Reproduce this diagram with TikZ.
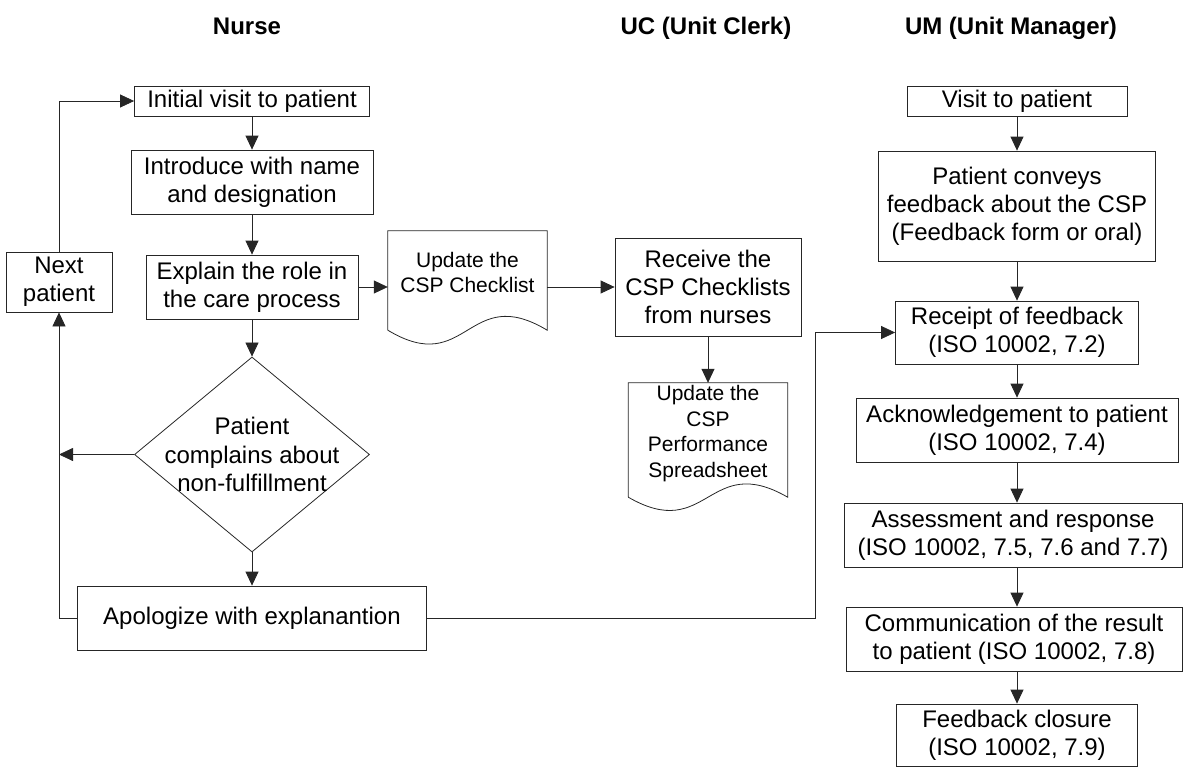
\documentclass[tikz,border=0pt]{standalone}
\usepackage{fontspec}
\setmainfont{Liberation Sans}
\usetikzlibrary{arrows.meta,shapes.geometric,calc}
\tikzset{
  box/.style={draw=black!85, line width=0.8pt, inner sep=0pt, align=center,
    font=\fontsize{24}{28}\selectfont},
  arr/.style={draw=black!85, line width=0.8pt, -{Triangle[length=14pt,width=13pt]}},
  ln/.style={draw=black!85, line width=0.8pt},
  docbox/.style={inner sep=0pt},
  doctext/.style={inner sep=0pt, align=center, font=\fontsize{21}{25.5}\selectfont},
  midtext/.style={inner sep=0pt, align=center, font=\fontsize{24}{28.5}\selectfont},
  hdr/.style={font=\fontsize{24}{28}\selectfont\bfseries, anchor=base},
  dia/.style={draw=black!85, line width=0.8pt, diamond, inner sep=0pt},
}
\newcommand\docwave[2]{%
  \draw[ln] (#1.south west) -- (#1.north west) -- (#1.north east) -- (#1.south east)
    .. controls ($(#1.south)+(0,-#2)$) and ($(#1.south)+(0,#2)$) .. (#1.south west);}
\begin{document}
\begin{tikzpicture}[x=1pt,y=-1pt]
\useasboundingbox (0,0) rectangle (1183,768);

% headers
\node[hdr] (hN) at (247,35) {Nurse};
\node[hdr] (hU) at (706,35) {UC (Unit Clerk)};
\node[hdr] (hM) at (1011,35) {UM (Unit Manager)};

% Nurse column
\node[box, minimum width=235, minimum height=30] (init) at (252,101) {Initial visit to patient};
\node[box, minimum width=242, minimum height=64] (intro) at (252,182) {Introduce with name\\and designation};
\node[box, minimum width=212, minimum height=64] (expl) at (252,287) {Explain the role in\\the care process};
\node[dia, minimum width=235, minimum height=195,
  label={[midtext]center:{Patient\\complains about\\non-fulfillment}}] (dec) at (252,454.5) {};
\node[box, minimum width=349, minimum height=64] (apol) at (252,618) {Apologize with explanantion};
\node[box, minimum width=106, minimum height=60] (next) at (59,282) {Next\\patient};

% UC column
\node[docbox, minimum width=159, minimum height=99,
  label={[doctext, yshift=8pt]center:{Update the\\CSP Checklist}}] (chk) at (467.5,280.5) {};
\docwave{chk}{48}
\node[box, minimum width=186, minimum height=98] (recv) at (708,287) {Receive the\\CSP Checklists\\from nurses};
\node[docbox, minimum width=159, minimum height=114,
  label={[doctext, yshift=6.5pt]center:{Update the\\CSP\\Performance\\Spreadsheet}}] (sprd) at (708,440) {};
\docwave{sprd}{46}

% UM column
\node[box, minimum width=220, minimum height=30] (visit) at (1017,101) {Visit to patient};
\node[box, minimum width=277, minimum height=110] (conv) at (1017,206) {Patient conveys\\feedback about the CSP\\(Feedback form or oral)};
\node[box, minimum width=243, minimum height=63] (rec) at (1017,332.5) {Receipt of feedback\\(ISO 10002, 7.2)};
\node[box, minimum width=322, minimum height=64] (ack) at (1017,430) {Acknowledgement to patient\\(ISO 10002, 7.4)};
\node[box, minimum width=338, minimum height=64] (ass) at (1013,535) {Assessment and response\\(ISO 10002, 7.5, 7.6 and 7.7)};
\node[box, minimum width=336, minimum height=64] (comm) at (1014,639) {Communication of the result\\to patient (ISO 10002, 7.8)};
\node[box, minimum width=241, minimum height=62] (close) at (1017,735) {Feedback closure\\(ISO 10002, 7.9)};

% connectors: nurse
\draw[arr] (init) -- (intro);
\draw[arr] (intro) -- (expl);
\draw[arr] (expl) -- (dec);
\draw[arr] (dec) -- (apol);
\draw[arr] (next.north) |- (init.west);
\draw[arr] (apol.west) -| (next.south);
\draw[arr] (dec.west) -- (dec.west -| next.south);
\draw[arr] (expl.east) -- (expl.east -| chk.west);

% connectors: UC
\draw[arr] (chk.east |- recv.west) -- (recv.west);
\draw[arr] (recv.south) -- (recv.south |- sprd.north);

% connectors: UM
\coordinate (bend) at (815,332.5);
\draw[arr] (apol.east) -| (bend) -- (rec.west);
\draw[arr] (visit) -- (conv);
\draw[arr] (conv) -- (rec);
\draw[arr] (rec) -- (ack);
\draw[arr] (ack.south) -- (ack.south |- ass.north);
\draw[arr] (ass.south -| ack.south) -- (comm.north -| ack.south);
\draw[arr] (comm.south -| ack.south) -- (close.north);
\end{tikzpicture}
\end{document}
